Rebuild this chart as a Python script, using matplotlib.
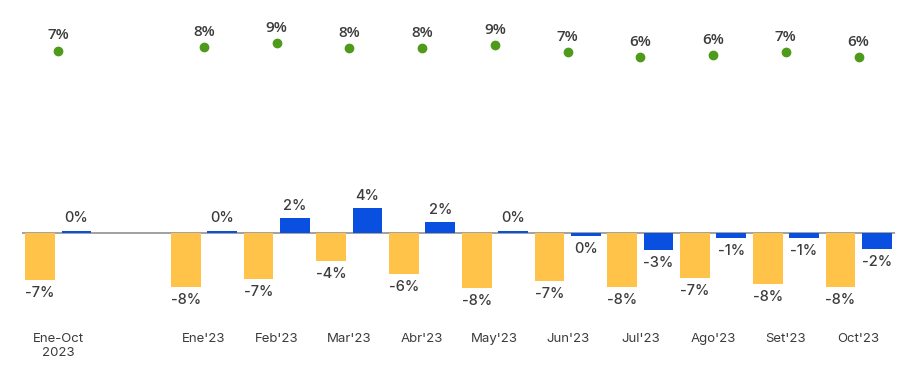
import matplotlib
matplotlib.use('Agg')
import matplotlib.pyplot as plt
import numpy as np

nan = np.nan
categories = ["Ene-Oct\n2023", "", "Ene'23", "Feb'23", "Mar'23", "Abr'23", "May'23",
              "Jun'23", "Jul'23", "Ago'23", "Set'23", "Oct'23"]
yellow = [-7.0, nan, -8.0, -6.8, -4.1, -6.1, -8.1, -7.1, -8.0, -6.7, -7.5, -8.0]
yellow_lbl = ["-7%", "", "-8%", "-7%", "-4%", "-6%", "-8%", "-7%", "-8%", "-7%", "-8%", "-8%"]
blue = [0.3, nan, 0.3, 2.2, 3.7, 1.6, 0.3, -0.4, -2.5, -0.7, -0.7, -2.4]
blue_lbl = ["0%", "", "0%", "2%", "4%", "2%", "0%", "0%", "-3%", "-1%", "-1%", "-2%"]
green = [7.4, nan, 8.1, 8.9, 7.9, 7.9, 8.5, 7.1, 6.0, 6.4, 7.1, 6.0]
green_lbl = ["7%", "", "8%", "9%", "8%", "8%", "9%", "7%", "6%", "6%", "7%", "6%"]

c_yel = '#FFC34A'
c_blu = '#0A50E0'
c_grn = '#4E9A1A'
c_txt = '#3C3C3C'

fig = plt.figure(figsize=(9.07, 3.67), dpi=100)
ax = fig.add_axes([22/907, 1 - 325/367, 873/907, 325/367])
x = np.arange(len(categories))
w = 0.41

ax.axhline(0, color='#9A9A9A', lw=1.3, zorder=2)
ax.bar(x - 0.25, yellow, w, color=c_yel, zorder=3)
ax.bar(x + 0.25, blue, w, color=c_blu, zorder=3)

for i in range(len(categories)):
    if np.isnan(yellow[i]):
        continue
    ax.annotate(yellow_lbl[i], (x[i] - 0.25, yellow[i]), xytext=(0, -9.5),
                textcoords='offset points', ha='center', va='center',
                fontsize=10.5, color=c_txt, family='Inter', weight='medium')
    off = 9 if blue[i] >= 0 else -9.5
    ax.annotate(blue_lbl[i], (x[i] + 0.25, blue[i]), xytext=(0, off),
                textcoords='offset points', ha='center', va='center',
                fontsize=10.5, color=c_txt, family='Inter', weight='medium')

ax.set_xlim(-0.5, 11.5)
ax.set_ylim((233 - 325) / 6.75, 233 / 6.75)
ticks = [i for i in range(len(categories)) if categories[i] != ""]
ax.set_xticks(ticks)
ax.set_xticklabels([categories[i] for i in ticks], fontsize=9.5, color=c_txt, family='Inter')
ax.tick_params(axis='x', length=0, pad=6)
ax.set_yticks([])
for s in ax.spines.values():
    s.set_visible(False)

ax2 = ax.twinx()
ax2.plot(x, green, 'o', color=c_grn, markersize=6)
for i in range(len(categories)):
    if np.isnan(green[i]):
        continue
    ax2.annotate(green_lbl[i], (x[i], green[i]), xytext=(0, 11),
                 textcoords='offset points', ha='center', va='center',
                 fontsize=11, color=c_txt, family='Open Sans', weight='semibold')
ax2.set_ylim((85.3 - 325) / 4.7, 85.3 / 4.7)
ax2.set_yticks([])
for s in ax2.spines.values():
    s.set_visible(False)

fig.savefig('out.png', dpi=100)
